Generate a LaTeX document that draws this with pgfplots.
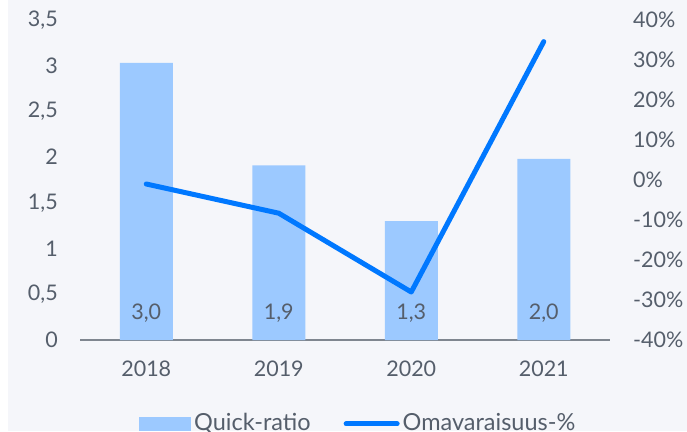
\documentclass[border=0pt]{standalone}
\usepackage{fontspec}
\setmainfont{Lato}
\usepackage{pgfplots}
\pgfplotsset{compat=1.18}
\definecolor{bg}{HTML}{F5F6FA}
\definecolor{barc}{HTML}{9CC9FF}
\definecolor{linec}{HTML}{0078FF}
\definecolor{txt}{HTML}{555E6B}
\definecolor{axc}{HTML}{7F868F}
\begin{document}
\fontsize{21.5}{26}\selectfont
\begin{tikzpicture}[x=1pt,y=1pt]
\fill[white] (0,0) rectangle (687,431);
\fill[bg] (8,0) rectangle (687,431);
\useasboundingbox (0,0) rectangle (687,431);
\begin{axis}[
  at={(80pt,91pt)}, anchor=south west,
  scale only axis, width=530pt, height=320pt,
  xmin=-0.5, xmax=3.5, ymin=0, ymax=3.5,
  xtick={0,1,2,3}, xticklabels={2018,2019,2020,2021},
  ytick={0,0.5,...,3.5},
  axis x line*=bottom, axis y line*=left,
  y axis line style={draw=none},
  x axis line style={axc, line width=1.5pt},
  major tick length=0pt, tick style={draw=none},
  /pgf/number format/use comma,
  /pgf/number format/assume math mode=true,
  ticklabel style={font=\fontsize{21.5}{26}\selectfont, text=txt},
  y tick label style={anchor=east, inner sep=0pt, xshift=-22pt},
  x tick label style={anchor=north, inner sep=0pt, yshift=-21pt},
  legend columns=2,
  legend style={draw=none, fill=none, at={(0.526,-0.262)}, anchor=center,
    font=\fontsize{23.5}{28}\selectfont, text=txt,
    /tikz/every even column/.append style={column sep=30pt},
    nodes={inner sep=3pt}},
]
\addplot[ybar, bar width=53pt, fill=barc, draw=none,
  legend image code/.code={\fill[barc] (0pt,-7pt) rectangle (52pt,7pt);}]
  coordinates {(0,3.03) (1,1.91) (2,1.30) (3,1.98)};
\addlegendentry{Quick-ratio}
\addlegendimage{linec, line width=5pt,
  legend image code/.code={\draw[linec,line width=5pt,line cap=round] (2pt,0pt) -- (53pt,0pt);}}
\addlegendentry{Omavaraisuus-\%}
\addplot[draw=none, mark=none, forget plot, nodes near coords, point meta=explicit symbolic,
  nodes near coords style={anchor=center, text=txt, font=\fontsize{21.5}{26}\selectfont}]
  table[meta=label] {
x y label
0 0.29 3,0
1 0.29 1,9
2 0.29 1,3
3 0.29 2,0
};
\end{axis}
\begin{axis}[
  at={(80pt,91pt)}, anchor=south west,
  scale only axis, width=530pt, height=320pt,
  xmin=-0.5, xmax=3.5, ymin=-40, ymax=40,
  axis x line=none, axis y line*=right,
  y axis line style={draw=none},
  major tick length=0pt, tick style={draw=none},
  ytick={-40,-30,...,40},
  yticklabels={-40\%,-30\%,-20\%,-10\%,0\%,10\%,20\%,30\%,40\%},
  ticklabel style={font=\fontsize{21.5}{26}\selectfont, text=txt},
  y tick label style={anchor=west, inner sep=0pt, xshift=23pt},
]
\addplot[linec, line width=5pt, line cap=round, line join=round, mark=none]
  coordinates {(0,-1) (1,-8.3) (2,-28) (3,34.6)};
\end{axis}
\end{tikzpicture}
\end{document}
